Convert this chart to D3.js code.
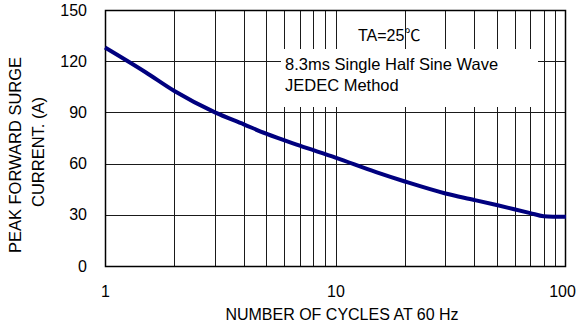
<!DOCTYPE html>
<html>
<head>
<meta charset="utf-8">
<script src="https://cdn.jsdelivr.net/npm/d3@7"></script>
<style>
  html, body { margin: 0; padding: 0; background: #fff; }
  text { font-family: "Liberation Sans", Arial, "Noto Sans CJK SC", sans-serif; fill: #000; }
</style>
</head>
<body>
<svg id="chart" width="579" height="327"></svg>
<script>
// Data
const cycles  = [1, 1.5, 2, 3, 4, 5, 7, 10, 15, 20, 30, 40, 50, 70, 80, 100];
const current = [128, 113.5, 102.5, 90, 83, 77.5, 70.5, 63.5, 55, 49.5, 42.5, 38.7, 35.7, 31, 29.2, 28.8];
const yTicks = [0, 30, 60, 90, 120, 150];
const xTickLabels = [1, 10, 100];
const xMinor = [2,3,4,5,6,7,8,9,10,20,30,40,50,60,70,80,90];
const xTitle = "NUMBER OF CYCLES AT 60 Hz";
const yTitle = ["PEAK FORWARD SURGE", "CURRENT. (A)"];
const notes = ["TA=25\u2103", "8.3ms Single Half Sine Wave", "JEDEC Method"];

const svg = d3.select("#chart");
const m = {left: 105, top: 10, right: 13, bottom: 61};
const W = 579 - m.left - m.right, H = 327 - m.top - m.bottom;

const x = d3.scaleLog().domain([1, 100]).range([m.left, m.left + W]);
const y = d3.scaleLinear().domain([0, 150]).range([m.top + H, m.top]);

const g = svg.append("g");
// vertical grid
g.selectAll("line.vg").data(xMinor).join("line")
  .attr("x1", d => Math.round(x(d)) + 0.5).attr("x2", d => Math.round(x(d)) + 0.5)
  .attr("y1", m.top).attr("y2", m.top + H)
  .attr("stroke", "#1a1a1a").attr("stroke-width", 1);
// horizontal grid
g.selectAll("line.hg").data(yTicks).join("line")
  .attr("x1", m.left).attr("x2", m.left + W)
  .attr("y1", d => Math.round(y(d)) + 0.5).attr("y2", d => Math.round(y(d)) + 0.5)
  .attr("stroke", "#1a1a1a").attr("stroke-width", 1);

// annotation white box
g.append("rect").attr("x", 281).attr("y", 49).attr("width", 257).attr("height", 58).attr("fill", "#fff");

// frame
g.append("rect").attr("x", m.left + 0.5).attr("y", m.top + 0.5)
  .attr("width", W - 1).attr("height", H)
  .attr("fill", "none").attr("stroke", "#000").attr("stroke-width", 1.5);

// curve
const line = d3.line().x(d => x(d[0])).y(d => y(d[1])).curve(d3.curveMonotoneX);
g.append("path").datum(cycles.map((c, i) => [c, current[i]]))
  .attr("d", line).attr("fill", "none").attr("stroke", "#00007f").attr("stroke-width", 4)
  .attr("stroke-linecap", "butt");

// axes tick labels
const yAxis = d3.axisLeft(y).tickValues(yTicks).tickSize(0).tickPadding(18);
const ya = svg.append("g").attr("transform", `translate(${m.left},0)`).call(yAxis);
ya.select(".domain").remove();
ya.selectAll("text").style("font-size", "16px").style("font-family", '"Liberation Sans", Arial, sans-serif').attr("fill", "#000");

const xAxis = d3.axisBottom(x).tickValues(xTickLabels).tickFormat(d3.format("d")).tickSize(0).tickPadding(20);
const xa = svg.append("g").attr("transform", `translate(0,${m.top + H})`).call(xAxis);
xa.select(".domain").remove();
xa.selectAll("text").style("font-size", "16px").style("font-family", '"Liberation Sans", Arial, sans-serif').attr("fill", "#000");
xa.selectAll(".tick").filter(d => d === 100).select("text").attr("text-anchor", "middle").attr("dx", -4);

// axis titles
svg.append("text").attr("x", 342).attr("y", 320).attr("text-anchor", "middle")
  .style("font-size", "16px").text(xTitle);
svg.append("text").attr("transform", "translate(21,155) rotate(-90)").attr("text-anchor", "middle")
  .style("font-size", "16.5px").text(yTitle[0]);
svg.append("text").attr("transform", "translate(44,152) rotate(-90)").attr("text-anchor", "middle")
  .style("font-size", "16.5px").text(yTitle[1]);

// notes
svg.append("text").attr("x", 358).attr("y", 41).style("font-size", "16px").text(notes[0]);
svg.append("text").attr("x", 285).attr("y", 70).style("font-size", "16.5px").text(notes[1]);
svg.append("text").attr("x", 285).attr("y", 91).style("font-size", "16.5px").text(notes[2]);
</script>
</body>
</html>
